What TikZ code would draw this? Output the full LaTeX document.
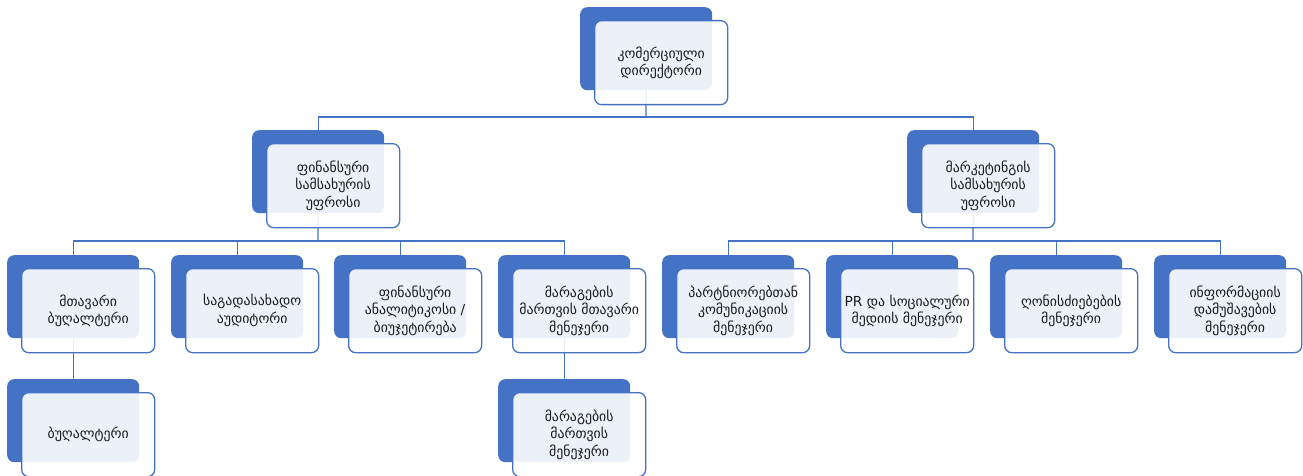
\documentclass[tikz,border=0pt]{standalone}
\usepackage{fontspec}
\setmainfont{DejaVu Sans}
\definecolor{bl}{HTML}{4472C4}
\newcommand\backbox[3]{\node[backbox] (#1b) at (#2,#3) {};}
\newcommand\frontbox[4]{\node[frontbox] (#1) at (#2+14,#3+13) {#4};}
\begin{document}
\begin{tikzpicture}[x=1pt,y=-1pt,
 backbox/.style={draw=none, fill=bl, rounded corners=7pt, minimum width=132pt, minimum height=83pt, inner sep=0pt, anchor=north west},
 frontbox/.style={draw=bl, line width=1.3pt, fill=white, fill opacity=0.9, text opacity=1, rounded corners=7pt, minimum width=133pt, minimum height=84pt, inner sep=0pt, anchor=north west, align=center, font=\fontsize{13.8}{17.5}\selectfont, text=black!90},
 conn/.style={draw=bl, line width=1.3pt}]
\useasboundingbox (0,0) rectangle (1303,476);
% back boxes
\backbox{top}{580}{7}
\backbox{fin}{252}{130}
\backbox{mkt}{907}{130}
\backbox{a1}{7}{255}
\backbox{a2}{171}{255}
\backbox{a3}{334}{255}
\backbox{a4}{498}{255}
\backbox{b1}{662}{255}
\backbox{b2}{826}{255}
\backbox{b3}{990}{255}
\backbox{b4}{1154}{255}
\backbox{c1}{7}{379}
\backbox{c2}{498}{379}
% connectors
\coordinate (bus1) at (646,117);
\coordinate (bus2) at (318,241);
\coordinate (bus3) at (973,241);
\draw[conn] (topb.south) -- (bus1);
\draw[conn] (finb.north) |- (bus1) -| (mktb.north);
\draw[conn] (finb.south) -- (bus2);
\draw[conn] (a1b.north) |- (bus2) -| (a4b.north);
\draw[conn] (a2b.north) |- (bus2);
\draw[conn] (a3b.north) |- (bus2);
\draw[conn] (mktb.south) -- (bus3);
\draw[conn] (b1b.north) |- (bus3) -| (b4b.north);
\draw[conn] (b2b.north) |- (bus3);
\draw[conn] (b3b.north) |- (bus3);
\draw[conn] (a1b.south) -- (c1b.north);
\draw[conn] (a4b.south) -- (c2b.north);
% front boxes
\frontbox{top}{580}{7}{კომერციული\\დირექტორი}
\frontbox{fin}{252}{130}{ფინანსური\\სამსახურის\\უფროსი}
\frontbox{mkt}{907}{130}{მარკეტინგის\\სამსახურის\\უფროსი}
\frontbox{a1}{7}{255}{მთავარი\\ბუღალტერი}
\frontbox{a2}{171}{255}{საგადასახადო\\აუდიტორი}
\frontbox{a3}{334}{255}{ფინანსური\\ანალიტიკოსი /\\ბიუჯეტირება}
\frontbox{a4}{498}{255}{მარაგების\\მართვის მთავარი\\მენეჯერი}
\frontbox{b1}{662}{255}{პარტნიორებთან\\კომუნიკაციის\\მენეჯერი}
\frontbox{b2}{826}{255}{PR და სოციალური\\მედიის მენეჯერი}
\frontbox{b3}{990}{255}{ღონისძიებების\\მენეჯერი}
\frontbox{b4}{1154}{255}{ინფორმაციის\\დამუშავების\\მენეჯერი}
\frontbox{c1}{7}{379}{ბუღალტერი}
\frontbox{c2}{498}{379}{მარაგების\\მართვის\\მენეჯერი}
\end{tikzpicture}
\end{document}
